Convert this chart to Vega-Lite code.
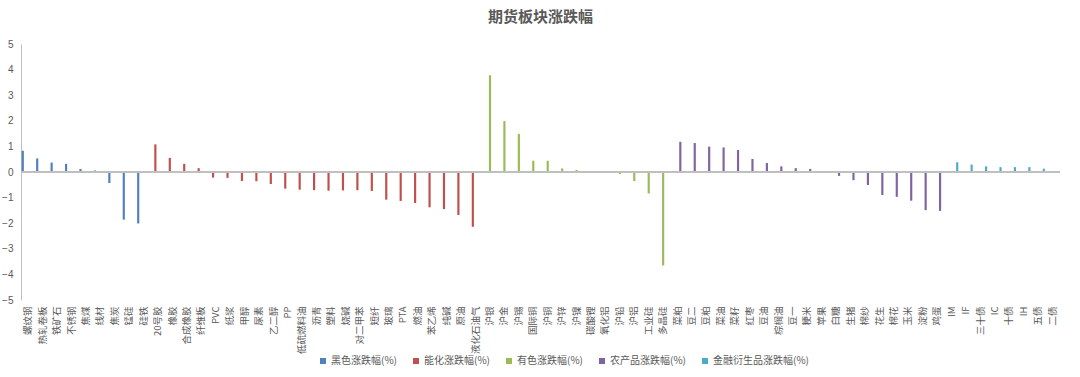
{
  "$schema": "https://vega.github.io/schema/vega-lite/v6.json",
  "width": 1039,
  "height": 256,
  "autosize": {"type": "none"},
  "padding": {"left": 21, "top": 44, "right": 20, "bottom": 77},
  "background": "white",
  "title": {
    "text": "期货板块涨跌幅",
    "fontSize": 15,
    "fontWeight": "bold",
    "color": "#595959",
    "font": "Noto Sans CJK SC",
    "anchor": "middle",
    "offset": 14
  },
  "config": {
    "view": {"stroke": null},
    "font": "Noto Sans CJK SC",
    "axis": {"labelOverlap": false},
    "axisY": {"labelOverlap": false}
  },
  "data": {
    "values": [
      {"name": "螺纹钢", "group": "黑色涨跌幅(%)", "value": 0.83},
      {"name": "热轧卷板", "group": "黑色涨跌幅(%)", "value": 0.53},
      {"name": "铁矿石", "group": "黑色涨跌幅(%)", "value": 0.37},
      {"name": "不锈钢", "group": "黑色涨跌幅(%)", "value": 0.32},
      {"name": "焦煤", "group": "黑色涨跌幅(%)", "value": 0.12},
      {"name": "线材", "group": "黑色涨跌幅(%)", "value": 0.06},
      {"name": "焦炭", "group": "黑色涨跌幅(%)", "value": -0.43},
      {"name": "锰硅", "group": "黑色涨跌幅(%)", "value": -1.86},
      {"name": "硅铁", "group": "黑色涨跌幅(%)", "value": -2.01},
      {"name": "20号胶", "group": "能化涨跌幅(%)", "value": 1.08},
      {"name": "橡胶", "group": "能化涨跌幅(%)", "value": 0.55},
      {"name": "合成橡胶", "group": "能化涨跌幅(%)", "value": 0.32},
      {"name": "纤维板", "group": "能化涨跌幅(%)", "value": 0.15},
      {"name": "PVC", "group": "能化涨跌幅(%)", "value": -0.22},
      {"name": "纸浆", "group": "能化涨跌幅(%)", "value": -0.23},
      {"name": "甲醇", "group": "能化涨跌幅(%)", "value": -0.35},
      {"name": "尿素", "group": "能化涨跌幅(%)", "value": -0.36},
      {"name": "乙二醇", "group": "能化涨跌幅(%)", "value": -0.47},
      {"name": "PP", "group": "能化涨跌幅(%)", "value": -0.65},
      {"name": "低硫燃料油", "group": "能化涨跌幅(%)", "value": -0.69},
      {"name": "沥青", "group": "能化涨跌幅(%)", "value": -0.71},
      {"name": "塑料", "group": "能化涨跌幅(%)", "value": -0.73},
      {"name": "烧碱", "group": "能化涨跌幅(%)", "value": -0.72},
      {"name": "对二甲苯", "group": "能化涨跌幅(%)", "value": -0.71},
      {"name": "短纤", "group": "能化涨跌幅(%)", "value": -0.74},
      {"name": "玻璃", "group": "能化涨跌幅(%)", "value": -1.08},
      {"name": "PTA", "group": "能化涨跌幅(%)", "value": -1.13},
      {"name": "燃油", "group": "能化涨跌幅(%)", "value": -1.21},
      {"name": "苯乙烯", "group": "能化涨跌幅(%)", "value": -1.38},
      {"name": "纯碱", "group": "能化涨跌幅(%)", "value": -1.45},
      {"name": "原油", "group": "能化涨跌幅(%)", "value": -1.68},
      {"name": "液化石油气", "group": "能化涨跌幅(%)", "value": -2.14},
      {"name": "沪银", "group": "有色涨跌幅(%)", "value": 3.78},
      {"name": "沪金", "group": "有色涨跌幅(%)", "value": 1.99},
      {"name": "沪锡", "group": "有色涨跌幅(%)", "value": 1.49},
      {"name": "国际铜", "group": "有色涨跌幅(%)", "value": 0.44},
      {"name": "沪铜", "group": "有色涨跌幅(%)", "value": 0.44},
      {"name": "沪锌", "group": "有色涨跌幅(%)", "value": 0.14},
      {"name": "沪镍", "group": "有色涨跌幅(%)", "value": 0.08},
      {"name": "碳酸锂", "group": "有色涨跌幅(%)", "value": -0.02},
      {"name": "氧化铝", "group": "有色涨跌幅(%)", "value": -0.03},
      {"name": "沪铅", "group": "有色涨跌幅(%)", "value": -0.08},
      {"name": "沪铝", "group": "有色涨跌幅(%)", "value": -0.35},
      {"name": "工业硅", "group": "有色涨跌幅(%)", "value": -0.84},
      {"name": "多晶硅", "group": "有色涨跌幅(%)", "value": -3.65},
      {"name": "菜粕", "group": "农产品涨跌幅(%)", "value": 1.18},
      {"name": "豆二", "group": "农产品涨跌幅(%)", "value": 1.13},
      {"name": "豆粕", "group": "农产品涨跌幅(%)", "value": 0.99},
      {"name": "菜油", "group": "农产品涨跌幅(%)", "value": 0.96},
      {"name": "菜籽", "group": "农产品涨跌幅(%)", "value": 0.86},
      {"name": "红枣", "group": "农产品涨跌幅(%)", "value": 0.51},
      {"name": "豆油", "group": "农产品涨跌幅(%)", "value": 0.35},
      {"name": "棕榈油", "group": "农产品涨跌幅(%)", "value": 0.22},
      {"name": "豆一", "group": "农产品涨跌幅(%)", "value": 0.15},
      {"name": "粳米", "group": "农产品涨跌幅(%)", "value": 0.12},
      {"name": "苹果", "group": "农产品涨跌幅(%)", "value": 0.0},
      {"name": "白糖", "group": "农产品涨跌幅(%)", "value": -0.15},
      {"name": "生猪", "group": "农产品涨跌幅(%)", "value": -0.32},
      {"name": "棉纱", "group": "农产品涨跌幅(%)", "value": -0.51},
      {"name": "花生", "group": "农产品涨跌幅(%)", "value": -0.9},
      {"name": "棉花", "group": "农产品涨跌幅(%)", "value": -0.97},
      {"name": "玉米", "group": "农产品涨跌幅(%)", "value": -1.12},
      {"name": "淀粉", "group": "农产品涨跌幅(%)", "value": -1.49},
      {"name": "鸡蛋", "group": "农产品涨跌幅(%)", "value": -1.52},
      {"name": "IM", "group": "金融衍生品涨跌幅(%)", "value": 0.38},
      {"name": "IF", "group": "金融衍生品涨跌幅(%)", "value": 0.29},
      {"name": "三十债", "group": "金融衍生品涨跌幅(%)", "value": 0.22},
      {"name": "IC", "group": "金融衍生品涨跌幅(%)", "value": 0.19},
      {"name": "十债", "group": "金融衍生品涨跌幅(%)", "value": 0.19},
      {"name": "IH", "group": "金融衍生品涨跌幅(%)", "value": 0.19},
      {"name": "五债", "group": "金融衍生品涨跌幅(%)", "value": 0.13},
      {"name": "二债", "group": "金融衍生品涨跌幅(%)", "value": 0.03}
    ]
  },
  "layer": [
    {
      "mark": {"type": "bar"},
      "encoding": {
        "x": {
          "field": "name",
          "type": "nominal",
          "sort": null,
          "scale": {"paddingInner": 0, "paddingOuter": 0},
          "axis": {
            "title": null,
            "domain": false,
            "ticks": false,
            "labelAngle": -90,
            "labelPadding": 6,
            "labelFontSize": 9.5,
            "labelColor": "#595959",
            "labelFont": "Noto Sans CJK SC",
            "labelOverlap": false
          }
        },
        "xOffset": {
          "field": "group",
          "type": "nominal",
          "scale": {
            "domain": ["黑色涨跌幅(%)", "能化涨跌幅(%)", "有色涨跌幅(%)", "农产品涨跌幅(%)", "金融衍生品涨跌幅(%)"],
            "paddingInner": 0.2,
            "paddingOuter": 0.25
          }
        },
        "y": {
          "field": "value",
          "type": "quantitative",
          "scale": {"domain": [-5, 5], "nice": false},
          "axis": {
            "title": null,
            "values": [-5, -4, -3, -2, -1, 0, 1, 2, 3, 4, 5],
            "labelOverlap": false,
            "grid": false,
            "ticks": false,
            "domainColor": "#bfbfbf",
            "labelColor": "#595959",
            "labelFontSize": 10,
            "labelPadding": 8,
            "labelFont": "Liberation Sans"
          }
        },
        "color": {
          "field": "group",
          "type": "nominal",
          "scale": {
            "domain": ["黑色涨跌幅(%)", "能化涨跌幅(%)", "有色涨跌幅(%)", "农产品涨跌幅(%)", "金融衍生品涨跌幅(%)"],
            "range": ["#4F81BD", "#C0504D", "#9BBB59", "#8064A2", "#4BACC6"]
          },
          "legend": {
            "title": null,
            "orient": "none",
            "direction": "horizontal",
            "legendX": 297,
            "legendY": 312,
            "symbolType": "square",
            "symbolSize": 36,
            "symbolStrokeWidth": 0,
            "labelFontSize": 10,
            "labelColor": "#595959",
            "labelFont": "Noto Sans CJK SC",
            "labelOffset": 3,
            "columnPadding": 14
          }
        }
      }
    },
    {
      "mark": {"type": "rule", "color": "#bfbfbf", "strokeWidth": 1},
      "encoding": {"y": {"datum": 0, "type": "quantitative", "axis": {"values": [-5, -4, -3, -2, -1, 0, 1, 2, 3, 4, 5], "labelOverlap": false}}}
    }
  ]
}
